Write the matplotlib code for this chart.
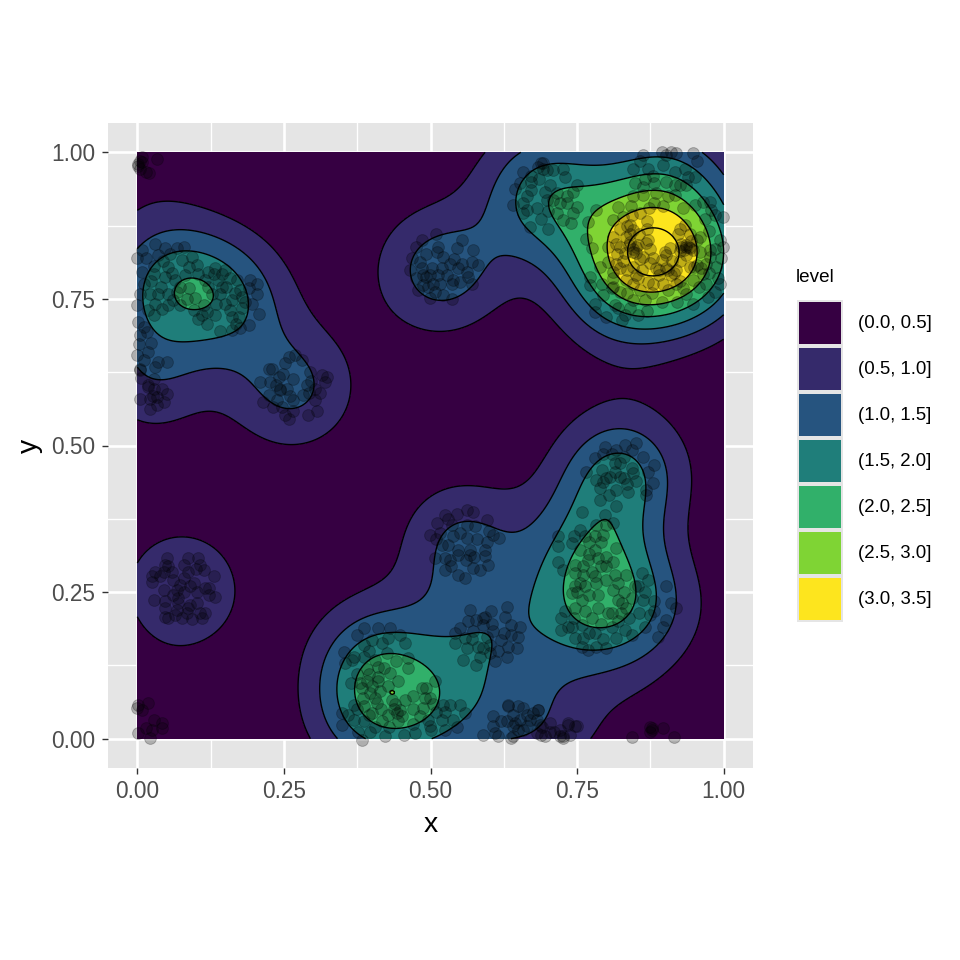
import numpy as np
import matplotlib
matplotlib.use("Agg")
import matplotlib.pyplot as plt
from matplotlib.patches import Rectangle

plt.rcParams["font.family"] = ["Liberation Sans", "DejaVu Sans"]

# points, cluster by cluster
upper_left = [(.031,.844),(.048,.836),(.068,.836),(.079,.838),(.008,.833),(0,.819),(.014,.819),(.036,.825),(.056,.827),(.093,.822),
    (.076,.816),(.008,.796),(.028,.793),(.053,.805),(.102,.808),(.133,.802),(.150,.799),(.104,.793),(.082,.790),(.048,.788),
    (.065,.782),(.116,.782),(.130,.793),(.144,.793),(.170,.782),(.192,.782),(.204,.776),(.190,.768),(.204,.759),(.175,.765),
    (.036,.759),(.053,.759),(.068,.762),(.022,.759),(.005,.759),(0,.739),(.031,.742),(.053,.739),(.073,.739),(.096,.731),
    (.113,.739),(.110,.722),(.133,.722),(.119,.708),(.141,.759),(.127,.759),(.144,.771),(.161,.748),(.178,.754),(.178,.734),
    (.158,.731),(.161,.719),(.173,.719),(.195,.742),(.207,.724),(.190,.705),(.175,.700),(.161,.697),(.141,.696),(.028,.722),
    (.002,.711),(.016,.694),(.005,.688),(.003,.673),(.018,.660),(0,.654),(.036,.643),(.051,.643),(.005,.631),(.028,.614)]
upper_left_low = [(.224,.631),(.258,.651),(.269,.654),(.281,.646),(.252,.640),(.266,.613),(.241,.617),(.227,.609),(.210,.609),(.244,.595),
    (.255,.597),(.224,.586),(.215,.575),(.232,.566),(.246,.566),(.266,.578),(.283,.586),(.289,.603),(.295,.626),(.315,.620),
    (.323,.617),(.320,.609),(.303,.597),(.303,.578),(.292,.589),(.266,.558),(.258,.546),(.291,.552),(.306,.558),(.252,.552),
    (.229,.631),(.244,.597),(.028,.597),(.019,.603),(.042,.597),(.051,.588),(.005,.579),(.022,.579),(.034,.582),(.045,.574),
    (.022,.563),(.034,.569),(.005,.629),(.019,.600)]
corner_top = [(.005,.986),(.002,.980),(.008,.992),(.005,.972),(.014,.966),(.020,.964),(.034,.988),(.001,.977),(.008,.983)]
mid_top = [(.509,.861),(.485,.850),(.476,.839),(.513,.839),(.511,.830),(.553,.850),(.545,.836),(.573,.833),(.468,.819),(.482,.813),
    (.533,.810),(.553,.810),(.570,.813),(.581,.807),(.465,.799),(.485,.802),(.502,.802),(.519,.802),(.547,.802),(.562,.796),
    (.476,.785),(.493,.788),(.513,.790),(.539,.782),(.564,.788),(.570,.776),(.479,.765),(.499,.751),(.516,.776),(.536,.776),
    (.522,.756),(.536,.749),(.505,.776),(.496,.771),(.488,.773)]
ridge_top = [(.692,.981),(.684,.975),(.698,.969),(.709,.969),(.726,.972),(.658,.966),(.672,.949),(.652,.947),(.644,.938),(.672,.935),
    (.729,.958),(.749,.944),(.743,.932),(.695,.932),(.698,.918),(.709,.918),(.732,.913),(.749,.907),(.721,.913),(.641,.910),
    (.658,.913),(.664,.901),(.658,.896),(.715,.896),(.726,.884),(.689,.887),(.701,.870),(.669,.873),(.783,.902),(.820,.907),
    (.769,.881),(.766,.853),(.775,.836),(.743,.896),(.689,.981),(.692,.972)]
peak_top = [(.863,.995),(.894,1.0),(.911,1.0),(.902,.995),(.919,.998),(.948,.998),(.954,.986),(.857,.986),(.846,.972),(.871,.972),
    (.897,.978),(.917,.966),(.934,.972),(.939,.958),(.951,.958),(.865,.955),(.848,.947),(.863,.941),(.882,.947),(.902,.949),
    (.917,.944),(.936,.944),(.863,.927),(.885,.930),(.917,.927),(.882,.913),(.897,.908),(.951,.910),(.965,.915),(.976,.915),
    (.968,.887),(.979,.901),(.999,.890),(.985,.893)]
peak_mid = [(.857,.896),(.843,.893),(.829,.890),(.812,.884),(.840,.876),(.823,.870),(.846,.867),(.834,.856),(.812,.856),(.803,.839),
    (.817,.844),(.823,.839),(.840,.847),(.854,.842),(.871,.850),(.863,.822),(.846,.830),(.851,.839),(.908,.836),(.902,.825),
    (.894,.816),(.922,.861),(.934,.876),(.942,.861),(.936,.839),(.942,.836),(.928,.844),(.948,.833),(.976,.833),(.993,.850),
    (.999,.839),(.996,.819),(.987,.805),(.976,.822),(.962,.802),(.936,.842),(.940,.838),(.932,.834),(.928,.838),(.845,.835),
    (.850,.828),(.838,.842),(.880,.820),(.875,.835),(.868,.845),(.900,.830),(.890,.800),(.860,.800),(.850,.790),(.835,.800),
    (.828,.815),(.840,.860),(.855,.860),(.870,.870),(.890,.790),(.910,.790),(.925,.815),(.960,.830),(.970,.810),(.905,.800),
    (.845,.775),(.880,.775),(.915,.795)]
peak_low = [(.789,.805),(.803,.813),(.817,.810),(.812,.796),(.823,.802),(.846,.805),(.885,.802),(.902,.802),(.919,.799),(.942,.805),
    (.954,.807),(.965,.793),(.772,.788),(.772,.773),(.792,.776),(.812,.785),(.834,.782),(.854,.785),(.871,.779),(.897,.776),
    (.919,.776),(.931,.768),(.948,.782),(.970,.776),(.993,.775),(.973,.754),(.985,.762),(.936,.759),(.948,.742),(.794,.756),
    (.809,.768),(.823,.762),(.846,.748),(.865,.748),(.780,.742),(.780,.728),(.800,.719),(.820,.734),(.831,.722),(.854,.722),
    (.826,.714)]
right_upper = [(.797,.498),(.831,.501),(.851,.504),(.817,.492),(.843,.492),(.780,.478),(.814,.470),(.863,.481),(.882,.467),(.871,.455),
    (.766,.455),(.792,.458),(.823,.470),(.783,.441),(.806,.447),(.846,.453),(.789,.427),(.817,.424),(.837,.421),(.880,.436),
    (.868,.424),(.789,.407),(.817,.396),(.868,.416),(.843,.461),(.794,.438),(.814,.455),(.823,.447)]
right_mid = [(.758,.387),(.797,.382),(.783,.365),(.800,.365),(.811,.367),(.755,.356),(.718,.345),(.741,.333),(.718,.328),(.718,.302),
    (.726,.288),(.763,.345),(.780,.345),(.794,.348),(.817,.325),(.755,.322),(.780,.322),(.769,.305),(.786,.308),(.811,.302),
    (.746,.296),(.800,.294),(.780,.277),(.746,.282),(.834,.279),(.760,.279),(.763,.260),(.741,.248),(.746,.260),(.811,.254),
    (.820,.265),(.848,.260),(.783,.265),(.786,.245),(.758,.237),(.820,.237),(.834,.223),(.826,.231),(.763,.217),(.746,.223),
    (.786,.223),(.803,.214),(.843,.240)]
right_low = [(.729,.217),(.723,.206),(.723,.186),(.741,.191),(.758,.194),(.746,.171),(.758,.157),(.769,.152),(.783,.157),(.800,.154),
    (.817,.171),(.831,.186),(.843,.177),(.865,.191),(.874,.211),(.863,.237),(.882,.234),(.882,.217),(.860,.282),(.871,.271),
    (.854,.260),(.902,.260),(.911,.231),(.919,.223),(.902,.203),(.897,.191),(.888,.174),(.780,.180),(.809,.191),(.760,.171)]
bottom_right = [(.633,.055),(.658,.052),(.684,.049),(.644,.027),(.670,.032),(.687,.024),(.658,.015),(.641,.004),(.689,.007),(.735,.024),
    (.746,.021),(.721,.015),(.738,.007),(.726,.001),(.704,.012),(.877,.018),(.897,.018),(.843,.003),(.915,.003),(.874,.012)]
center_upper = [(.525,.382),(.562,.390),(.545,.384),(.573,.387),(.596,.373),(.511,.367),(.536,.365),(.562,.365),(.576,.362),(.499,.348),
    (.516,.350),(.539,.345),(.562,.342),(.607,.348),(.616,.342),(.596,.336),(.519,.330),(.547,.322),(.567,.322),(.593,.322),
    (.508,.308),(.525,.308),(.533,.305),(.567,.313),(.593,.311),(.598,.296),(.525,.288),(.547,.279),(.559,.274),(.573,.291),(.585,.288),(.547,.313)]
center_low = [(.567,.220),(.564,.200),(.550,.189),(.542,.180),(.542,.163),(.559,.171),(.581,.157),(.562,.154),(.601,.160),(.601,.146),
    (.556,.135),(.578,.126),(.610,.132),(.593,.208),(.604,.217),(.630,.225),(.627,.208),(.590,.194),(.607,.183),(.638,.194),
    (.653,.191),(.638,.177),(.650,.174),(.647,.154),(.630,.140),(.633,.157),(.621,.169),(.596,.174),(.573,.183),(.578,.203)]
bottom_mid = [(.386,.189),(.411,.189),(.431,.189),(.448,.177),(.457,.163),(.374,.177),(.400,.169),(.428,.171),(.386,.160),(.417,.163),
    (.352,.147),(.366,.135),(.386,.140),(.425,.146),(.462,.137),(.462,.120),(.442,.132),(.391,.118),(.411,.123),(.431,.112),
    (.445,.098),(.354,.129),(.391,.098),(.411,.098),(.428,.089),(.383,.086),(.397,.078),(.414,.081),(.508,.098),(.485,.086),
    (.493,.086),(.499,.069),(.471,.072),(.457,.066),(.434,.066),(.408,.061),(.386,.055),(.400,.044),(.369,.058),(.349,.044),
    (.349,.024),(.448,.049),(.451,.038),(.428,.041),(.417,.030),(.386,.030),(.369,.032),(.482,.038),(.496,.032),(.522,.058),
    (.533,.058),(.550,.058),(.519,.032),(.525,.015),(.559,.044),(.499,.021),(.474,.010),(.454,.007),(.423,.004),(.397,.012),
    (.377,.012),(.383,-.002),(.488,.052),(.539,.032)]
bottom_edge = [(.633,.058),(.650,.055),(.684,.049),(.675,.044),(.607,.038),(.607,.021),(.630,.030),(.653,.032),(.681,.032),(.704,.027),
    (.590,.007),(.610,.010),(.641,.021),(.664,.021),(.681,.010),(.638,.001),(.710,.012),(.726,.004),(.749,.021),(.735,.027)]
left_round = [(.051,.308),(.087,.308),(.104,.308),(.048,.296),(.053,.294),(.079,.296),(.107,.296),(.031,.285),(.059,.285),(.113,.288),
    (.130,.277),(.025,.277),(.025,.268),(.079,.274),(.087,.285),(.039,.277),(.096,.265),(.045,.254),(.068,.254),(.073,.262),
    (.102,.251),(.116,.257),(.122,.257),(.133,.241),(.028,.237),(.048,.234),(.070,.231),(.090,.228),(.102,.231),(.122,.245),
    (.048,.223),(.068,.220),(.087,.223),(.116,.214),(.048,.207),(.065,.211),(.053,.206),(.076,.206),(.093,.204),(.110,.206),(.107,.214)]
corner_bottom = [(.002,.058),(.019,.061),(0,.052),(.008,.049),(.028,.032),(.042,.027),(.014,.018),(.042,.018),(.002,.010),(.022,.001),(.025,.015)]

# second pass over the crowded parts
extra_left = [(.024,.781),(.041,.771),(.059,.795),(.072,.771),(.088,.768),(.099,.752),(.121,.771),(.137,.783),(.152,.771),(.167,.760),
    (.149,.741),(.134,.742),(.118,.728),(.103,.716),(.084,.749),(.061,.748),(.042,.733),(.019,.731),(.012,.775),(.029,.806),
    (.044,.815),(.088,.805),(.121,.796),(.158,.786),(.183,.745),(.169,.708),(.011,.702),(.023,.675),(.030,.634),(.012,.645),
    (.007,.615),(.026,.585),(.236,.604),(.248,.622),(.261,.585),(.239,.578),(.297,.610),(.311,.590)]
extra_mid = [(.493,.826),(.522,.822),(.540,.818),(.499,.790),(.528,.790),(.551,.778),(.507,.762),(.487,.790),(.671,.960),(.685,.955),
    (.704,.945),(.664,.926),(.716,.930),(.733,.925),(.682,.905),(.700,.900),(.740,.880)]
extra_peak = [(.872,.905),(.905,.925),(.930,.905),(.925,.945),(.880,.960),(.845,.925),(.842,.908),(.870,.883),(.835,.875),(.818,.826),
    (.832,.828),(.858,.818),(.874,.812),(.812,.770),(.835,.760),(.857,.765),(.878,.760),(.905,.765),(.925,.780),(.950,.805),
    (.958,.770),(.975,.795),(.985,.835),(.990,.785),(.960,.855),(.975,.865),(.815,.740),(.840,.735),(.870,.730),(.895,.745),
    (.920,.745),(.955,.850),(.925,.832),(.935,.825),(.945,.848),(.912,.815),(.925,.870)]
extra_right = [(.795,.485),(.810,.485),(.830,.480),(.800,.445),(.830,.445),(.850,.440),(.805,.415),(.835,.435),(.745,.345),(.770,.335),
    (.790,.335),(.770,.315),(.790,.295),(.760,.295),(.775,.285),(.800,.310),(.755,.265),(.770,.245),(.800,.270),(.815,.280),
    (.830,.250),(.825,.215),(.838,.205),(.810,.215),(.775,.205),(.745,.205),(.735,.190),(.770,.180),(.790,.195),(.820,.200),
    (.795,.170),(.750,.250),(.865,.250),(.855,.215)]
extra_center = [(.510,.340),(.530,.330),(.550,.350),(.580,.340),(.560,.305),(.535,.295),(.575,.310),(.530,.375),(.600,.355),(.590,.205),
    (.570,.170),(.590,.155),(.605,.195),(.625,.180),(.585,.140),(.615,.150)]
extra_bottom = [(.370,.140),(.395,.150),(.405,.135),(.420,.120),(.375,.110),(.395,.110),(.410,.105),(.380,.095),(.400,.090),(.365,.095),
    (.385,.070),(.405,.070),(.375,.050),(.395,.040),(.415,.050),(.440,.060),(.445,.030),(.438,.050),(.443,.043),(.470,.050),
    (.490,.070),(.505,.060),(.510,.045),(.500,.015),(.470,.025),(.430,.020),(.405,.020),(.360,.040),(.525,.045),(.545,.020),
    (.620,.030),(.640,.040),(.665,.040),(.690,.020),(.695,.005),(.650,.015),(.615,.005),(.720,.005),(.875,.020),(.878,.015)]
extra_round = [(.060,.270),(.080,.250),(.090,.260),(.060,.245),(.070,.240),(.045,.285),(.100,.290),(.085,.215)]

clusters = [upper_left, upper_left_low, corner_top, mid_top, ridge_top, peak_top, peak_mid, peak_low, right_upper,
            right_mid, right_low, bottom_right, center_upper, center_low, bottom_mid, bottom_edge, left_round, corner_bottom,
            extra_left, extra_mid, extra_peak, extra_right, extra_center, extra_bottom, extra_round]
# how many real points one typed point stands for in the density
cluster_weights = [1.2, 1.1, 0.7, 1.15, 1.8, 1.4, 1.2, 1.5, 1.8, 1.44, 1.4, 0.7, 1.05, 1.1, 1.5, 0.7, 0.75, 0.7,
                   1.0, 0.9, 1.2, 0.9, 0.8, 1.0, 0.75]

level_breaks = [0.0, 0.5, 1.0, 1.5, 2.0, 2.5, 3.0, 3.5]
level_labels = ["(0.0, 0.5]", "(0.5, 1.0]", "(1.0, 1.5]", "(1.5, 2.0]", "(2.0, 2.5]", "(2.5, 3.0]", "(3.0, 3.5]"]
level_colors = ["#360042", "#352A6B", "#26547F", "#1F7E7A", "#31B06A", "#7FD434", "#FDE51E"]
tick_values = [0.0, 0.25, 0.5, 0.75, 1.0]
tick_labels = ["0.00", "0.25", "0.50", "0.75", "1.00"]
minor_values = [0.125, 0.375, 0.625, 0.875]

bandwidth = 0.072
density_scale = 1.0


def density_grid(grid_size=300):
    # gaussian kde on the unit square, same idea as kde2d
    gx = np.linspace(0, 1, grid_size)
    gy = np.linspace(0, 1, grid_size)
    zz = np.zeros((grid_size, grid_size))
    total = 0
    for pts, w in zip(clusters, cluster_weights):
        p = np.array(pts)
        kx = np.exp(-0.5 * ((gx[None, :] - p[:, 0:1]) / bandwidth) ** 2)
        ky = np.exp(-0.5 * ((gy[None, :] - p[:, 1:2]) / bandwidth) ** 2)
        zz += w * ky.T @ kx
        total += w * len(p)
    zz /= total * 2 * np.pi * bandwidth ** 2
    return gx, gy, zz * density_scale


fig = plt.figure(figsize=(9.6, 9.6), dpi=100)
ax = fig.add_axes([108 / 960, 192 / 960, 645 / 960, 645 / 960])
ax.set_facecolor("#E5E5E5")
for s in ax.spines.values():
    s.set_visible(False)

gx, gy, zz = density_grid()
ax.contourf(gx, gy, zz, levels=level_breaks, colors=level_colors, extend="max", zorder=2)
ax.contour(gx, gy, zz, levels=level_breaks[1:], colors="black", linewidths=1.0, zorder=3)

all_pts = np.array([p for pts in clusters for p in pts])
ax.scatter(all_pts[:, 0], all_pts[:, 1], s=72, c="black", alpha=0.24, linewidths=0.7, zorder=4)

ax.set_xlim(-0.05, 1.05)
ax.set_ylim(-0.05, 1.05)
ax.set_xticks(tick_values, tick_labels)
ax.set_yticks(tick_values, tick_labels)
ax.set_xticks(minor_values, minor=True)
ax.set_yticks(minor_values, minor=True)
ax.grid(True, which="major", color="white", linewidth=1.9, zorder=1)
ax.grid(True, which="minor", color="white", linewidth=0.95, zorder=1)
ax.set_axisbelow(True)
ax.tick_params(which="major", length=4, width=1.0, color="#333333", labelcolor="#4D4D4D", labelsize=16.3, pad=5)
ax.tick_params(which="minor", length=0)
ax.set_xlabel("x", fontsize=20.4, labelpad=6)
ax.set_ylabel("y", fontsize=20.4, labelpad=6)

# legend drawn by hand, ggplot style
fig.text(796 / 960, 1 - 278 / 960, "level", fontsize=13.6, va="center", ha="left")
key_top, key_h, key_w = 300.0, 46.0, 46.0
for i, (col, lab) in enumerate(zip(level_colors, level_labels)):
    y0 = key_top + i * key_h
    fig.add_artist(Rectangle((796.5 / 960, 1 - (y0 + key_h) / 960), key_w / 960, key_h / 960,
                             transform=fig.transFigure, facecolor="#E5E5E5", edgecolor="none"))
    fig.add_artist(Rectangle((798.5 / 960, 1 - (y0 + key_h - 2) / 960), (key_w - 4) / 960, (key_h - 4) / 960,
                             transform=fig.transFigure, facecolor=col, edgecolor="none"))
    fig.text(858 / 960, 1 - (y0 + key_h / 2) / 960, lab, fontsize=13.4, va="center", ha="left")

fig.savefig("out.png", dpi=100, facecolor="white")
